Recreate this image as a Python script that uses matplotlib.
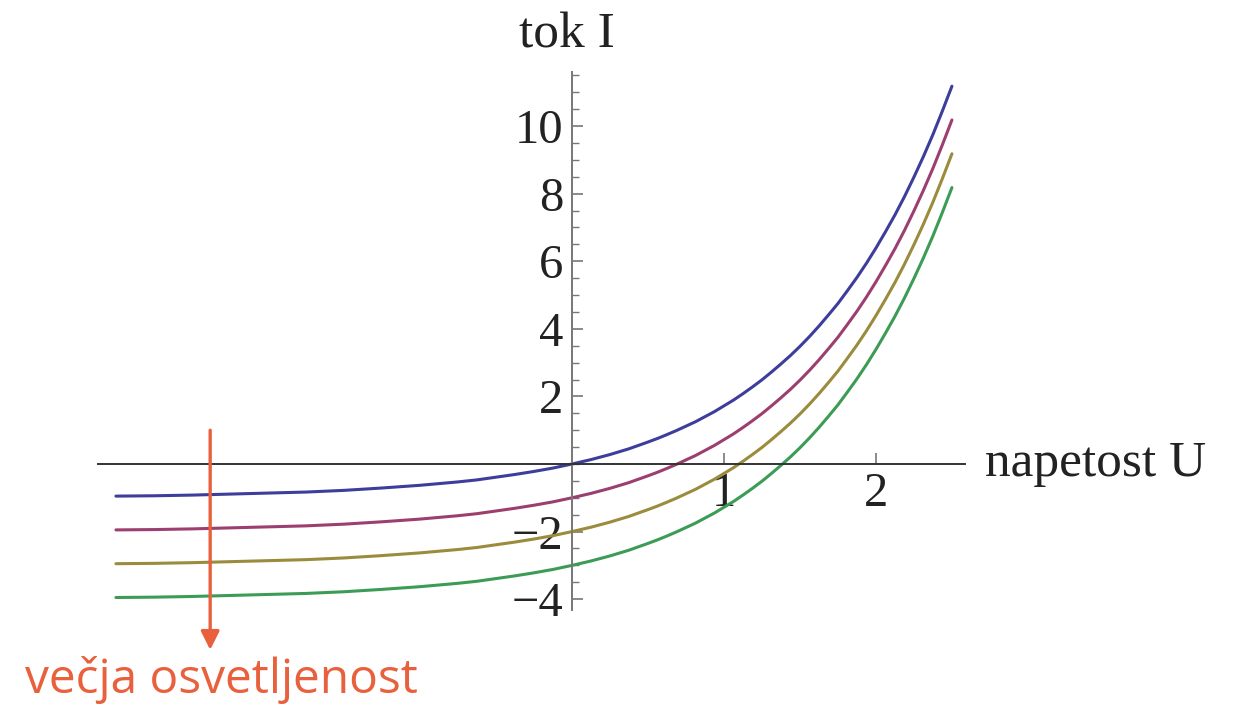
import matplotlib
matplotlib.use('Agg')
import matplotlib.pyplot as plt
from matplotlib.ticker import MultipleLocator, FixedLocator
import numpy as np

# napetost U
U = [-3.0, -2.75, -2.5, -2.25, -2.0, -1.75, -1.5, -1.25, -1.0, -0.875, -0.75,
     -0.625, -0.5, -0.375, -0.25, -0.125, 0.0, 0.125, 0.25, 0.375, 0.5, 0.5625,
     0.625, 0.6875, 0.75, 0.8125, 0.875, 0.9375, 1.0, 1.0625, 1.125, 1.1875,
     1.25, 1.3125, 1.375, 1.4375, 1.5, 1.5625, 1.625, 1.6875, 1.75, 1.8125,
     1.875, 1.9375, 2.0, 2.0625, 2.125, 2.1875, 2.25, 2.3125, 2.375, 2.4375,
     2.5]
# tok I of the top (blue) curve
I_top = [-0.95, -0.94, -0.92, -0.89, -0.86, -0.83, -0.78, -0.71, -0.63, -0.58,
         -0.53, -0.47, -0.39, -0.31, -0.22, -0.12, 0.0, 0.13, 0.28, 0.45, 0.65,
         0.755, 0.87, 0.99, 1.12, 1.25, 1.40, 1.55, 1.72, 1.89, 2.08, 2.28,
         2.49, 2.72, 2.96, 3.21, 3.48, 3.77, 4.08, 4.41, 4.75, 5.13, 5.52, 5.94,
         6.39, 6.87, 7.37, 7.91, 8.49, 9.10, 9.75, 10.45, 11.18]
# shift of each curve (larger illumination -> lower curve)
offsets = [0, -1, -2, -3]
colors = ['#3d3d9b', '#9c3f70', '#9a8b3d', '#3c9b55']

xticks = [1, 2]
yticks = [-4, -2, 2, 4, 6, 8, 10]

fig = plt.figure(figsize=(12.42, 7.09), dpi=100)
ax = fig.add_axes([98 / 1242, 99 / 709, 867 / 1242, 538 / 709])

for off, c in zip(offsets, colors):
    ax.plot(U, np.array(I_top) + off, color=c, lw=2.2, solid_capstyle='round',
            solid_joinstyle='round')

ax.set_xlim(-3.118, 2.586)
ax.set_ylim(-4.32, 11.6)

ax.spines['left'].set_position(('data', 0))
ax.spines['bottom'].set_position(('data', 0))
ax.spines['top'].set_visible(False)
ax.spines['right'].set_visible(False)
ax.spines['left'].set_color('#777777')
ax.spines['bottom'].set_color('#333333')
ax.spines['left'].set_linewidth(1.4)
ax.spines['bottom'].set_linewidth(1.4)

ax.xaxis.set_major_locator(FixedLocator(xticks))
ax.yaxis.set_major_locator(FixedLocator(yticks))
ax.yaxis.set_minor_locator(MultipleLocator(0.5))
ax.set_xticklabels([str(t) for t in xticks])
ax.set_yticklabels(['\u2212' + str(-t) if t < 0 else str(t) for t in yticks])

ax.tick_params(axis='both', which='major', direction='in', length=8, width=1.2,
               color='#777777', labelsize=35, pad=6)
ax.tick_params(axis='y', which='minor', direction='in', length=5, width=1.0,
               color='#777777')
for lab in ax.get_xticklabels() + ax.get_yticklabels():
    lab.set_family('Liberation Serif')
    lab.set_color('#222222')

fig.text(567 / 1242, 1 - 35 / 709, 'tok I', family='Liberation Serif',
         fontsize=37, color='#222222', ha='center', va='center')
fig.text(985 / 1242, 1 - 464 / 709, 'napetost U', family='Liberation Serif',
         fontsize=37, color='#222222', ha='left', va='center')

ax.annotate('', xy=(-2.38, -5.5), xytext=(-2.38, 1.0),
            arrowprops=dict(arrowstyle='-|>', color='#e8603c', lw=2.4,
                            mutation_scale=28, shrinkA=0, shrinkB=0),
            annotation_clip=False)
fig.text(25 / 1242, 16 / 709, 'večja osvetljenost', family='Open Sans',
         fontsize=34.5, color='#e8603c', ha='left', va='baseline')

fig.savefig('out.png', dpi=100)
